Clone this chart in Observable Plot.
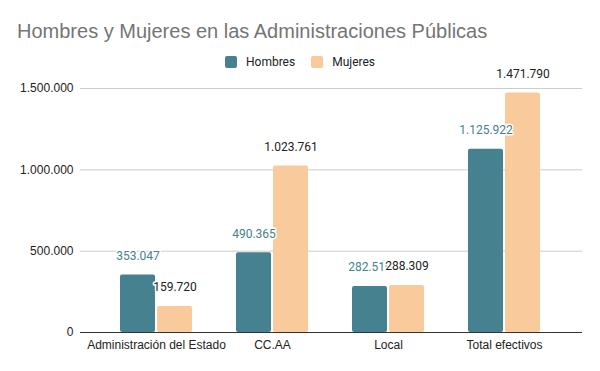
<!DOCTYPE html>
<html>
<head>
<meta charset="utf-8">
<script src="https://cdn.jsdelivr.net/npm/d3@7"></script>
<script src="https://cdn.jsdelivr.net/npm/@observablehq/plot@0.6"></script>
<style>
  html, body { margin: 0; padding: 0; background: #fff; }
  #wrap { width: 600px; height: 371px; position: relative; overflow: hidden; }
  #title { height: 50px; box-sizing: border-box; padding: 21px 0 0 17px; line-height: 20px;
           font-family: 'Liberation Sans', Arial, sans-serif; font-size: 20px; color: #757575; white-space: nowrap; }
  #legend { height: 24px; display: flex; justify-content: center; align-items: center; gap: 16px;
            font-family: Roboto, sans-serif; font-size: 12px; color: #222; }
  .item { display: flex; align-items: center; gap: 9px; }
  .sw { width: 12px; height: 12px; border-radius: 2px; }
  svg { display: block; }
</style>
</head>
<body>
<div id="wrap">
  <div id="title">Hombres y Mujeres en las Administraciones Públicas</div>
  <div id="legend"></div>
  <div id="chart"></div>
</div>
<script>
const categories = ["Administración del Estado", "CC.AA", "Local", "Total efectivos"];
const hombres = [353047, 490365, 282510, 1125922];
const mujeres = [159720, 1023761, 288309, 1471790];
const yTicks = [0, 500000, 1000000, 1500000];
const seriesNames = ["Hombres", "Mujeres"];
const seriesColors = ["#45818e", "#f9cb9c"];

const fmt = d => d3.format(",")(d).replace(/,/g, ".");
const rows = categories.map((c, i) => ({cat: c, h: hombres[i], m: mujeres[i]}));

const legend = document.getElementById("legend");
seriesNames.forEach((s, i) => {
  const it = document.createElement("div");
  it.className = "item";
  it.innerHTML = `<span class="sw" style="background:${seriesColors[i]}"></span><span>${s}</span>`;
  legend.appendChild(it);
});

const plot = Plot.plot({
  width: 600,
  height: 297,
  marginTop: 14,
  marginBottom: 39,
  marginLeft: 80,
  marginRight: 20,
  style: {fontFamily: "Roboto, sans-serif", fontSize: "12px", overflow: "visible", background: "transparent"},
  x: {domain: categories, paddingInner: 0.38, paddingOuter: 0.345, label: null},
  y: {domain: [0, 1500000], label: null},
  marks: [
    Plot.ruleY(yTicks.filter(d => d > 0), {stroke: "#cccccc", strokeWidth: 1, insetRight: -2}),
    Plot.barY(rows, {x: "cat", y: "h", fill: seriesColors[0], insetLeft: 0, insetRight: 37, rx: 2}),
    Plot.barY(rows, {x: "cat", y: "m", fill: seriesColors[1], insetLeft: 37, insetRight: 0, rx: 2}),
    Plot.ruleY([0], {stroke: "#333333", strokeWidth: 1, insetRight: -2}),
    Plot.text(rows, {x: "cat", y: "h", text: d => fmt(d.h), dx: -18.5, dy: -19,
      fill: seriesColors[0], stroke: "white", strokeWidth: 3, fontSize: 12, fontFamily: "Roboto, sans-serif"}),
    Plot.text(rows, {x: "cat", y: "m", text: d => fmt(d.m), dx: 18.5, dy: -19,
      fill: "#222222", stroke: "white", strokeWidth: 3, fontSize: 12, fontFamily: "Roboto, sans-serif"}),
    Plot.axisY(yTicks, {tickSize: 0, tickPadding: 7, tickFormat: fmt, fontSize: 12,
      fontFamily: "'Liberation Sans', Arial, sans-serif", fill: "#222", label: null}),
    Plot.axisX({tickSize: 0, tickPadding: 8, fontSize: 12,
      fontFamily: "'Liberation Sans', Arial, sans-serif", fill: "#222", label: null})
  ]
});
document.getElementById("chart").appendChild(plot);
</script>
</body>
</html>
